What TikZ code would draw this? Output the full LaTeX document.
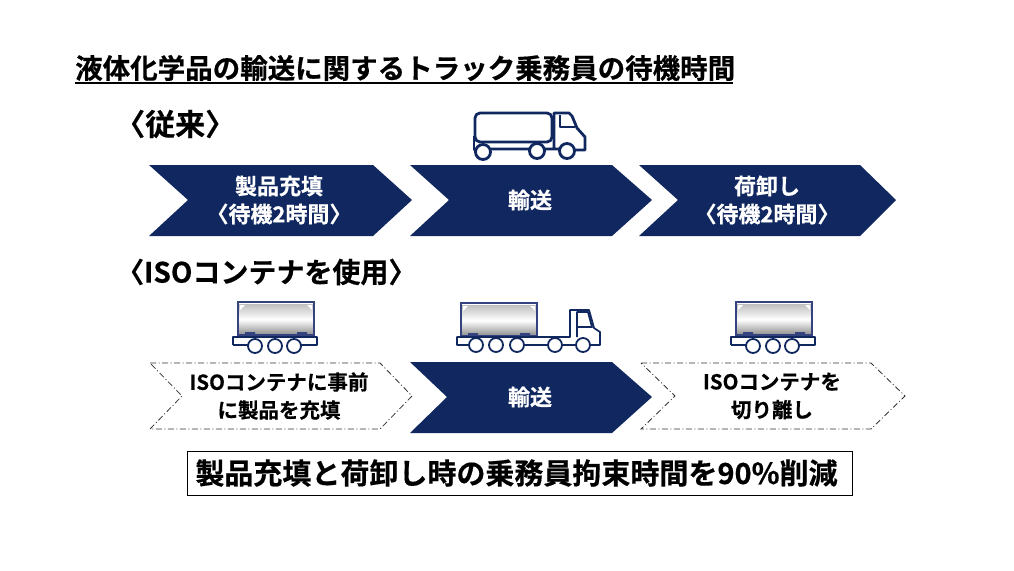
\documentclass[tikz,border=0pt]{standalone}
\usepackage{fontspec}
\setmainfont{Noto Sans CJK JP}[BoldFont={Noto Sans CJK JP Bold},BoldFeatures={FakeBold=0.5}]
\definecolor{navy}{HTML}{10285F}
\definecolor{framecol}{HTML}{34437F}
\tikzset{
    arrowsolid/.style={fill=navy,draw=none},
    arrowdash/.style={draw=black!80,line width=0.8pt,dash pattern=on 6pt off 2.5pt on 1pt off 2.5pt},
    whitetxt/.style={text=white,font=\fontsize{22}{28}\selectfont\bfseries,align=center,inner sep=0pt},
    blacktxt/.style={text=black,font=\fontsize{20.5}{28}\selectfont\bfseries,align=center,inner sep=0pt},
    headtxt/.style={text=black,font=\fontsize{29}{32}\selectfont\bfseries,anchor=west,inner sep=0pt},
    truckline/.style={draw=navy,line width=1.8pt,line join=round},
    tanker/.style={draw=navy,line width=2.8pt,line join=round},
    pics/tankbox/.style={code={
        \shade[top color=black!25,bottom color=black!45,middle color=white] (2,2) rectangle (76,33);
        \fill[white] (3,3) -- (8,3) -- (3,8) -- cycle (75,3) -- (70,3) -- (75,8) -- cycle;
        \draw[framecol,line width=2.6pt] (1,0) rectangle (77,33);
        \fill[framecol] (8,30) rectangle (18,33) (60,30) rectangle (70,33);
    }},
    pics/wheelbase/.style={code={
        \draw[truckline] (0,8) -- (0,0) -- (84,0) -- (84,8) -- (68,8);
        \draw[truckline] (0,8) -- (15,8);
        \draw[truckline] (22,9) circle (7) (42,9) circle (7) (61,9) circle (7);
    }}
}
\begin{document}
\begin{tikzpicture}[x=1pt,y=-1pt]
    \useasboundingbox (0,0) rectangle (1014,570);

    \node[headtxt,font=\fontsize{27.5}{30}\selectfont\bfseries] (title) at (75,68) {液体化学品の輸送に関するトラック乗務員の待機時間};
    \draw[black,line width=1.5pt] (75,83) -- (733,83);

    \node[headtxt,font=\fontsize{30}{32}\selectfont\bfseries] (oldhead) at (115,124) {〈従来〉};
    \node[headtxt,font=\fontsize{28}{32}\selectfont\bfseries] (isohead) at (116,272) {〈ISOコンテナを使用〉};

    % upper row
    \fill[arrowsolid] (149,165) -- (373,165) -- (412,200) -- (373,236) -- (149,236) -- (188,200) -- cycle;
    \fill[arrowsolid] (410,165) -- (612,165) -- (652,200) -- (612,236) -- (410,236) -- (449,200) -- cycle;
    \fill[arrowsolid] (639,165) -- (860,165) -- (896,200) -- (860,236) -- (639,236) -- (678,200) -- cycle;
    \node[whitetxt] (fill) at (279,200) {製品充填\\〈待機2時間〉};
    \node[whitetxt] (trans) at (530,200) {輸送};
    \node[whitetxt] (unload) at (767,200) {荷卸し\\〈待機2時間〉};

    % lower row
    \draw[arrowdash] (150,363) -- (380,363) -- (412,396) -- (380,429) -- (150,429) -- (182,396) -- cycle;
    \fill[arrowsolid] (410,362) -- (612,362) -- (652,397) -- (612,433) -- (410,433) -- (447,397) -- cycle;
    \draw[arrowdash] (641,363) -- (871,363) -- (905,396) -- (871,429) -- (641,429) -- (675,396) -- cycle;
    \node[blacktxt] (prefill) at (279,396) {ISOコンテナに事前\\に製品を充填};
    \node[whitetxt] (transb) at (530,397) {輸送};
    \node[blacktxt] (detach) at (772,396) {ISOコンテナを\\切り離し};

    % tank lorry
    \draw[tanker,rounded corners=5pt] (475,113) rectangle (552,142);
    \draw[tanker] (474,136) -- (474,150) -- (476,150);
    \draw[tanker] (491,149) -- (529,149) (545,149) -- (559,149) (575,150) -- (585,150) -- (585,137) -- (577,128) -- (572,116) -- (569,113) -- (554,113) -- (554,149);
    \draw[tanker] (560,115) -- (560,127) -- (575,127);
    \draw[tanker] (483,152) circle (7.5) (537,151) circle (7.5) (567,151) circle (7.5);

    % container lorry
    \pic at (460,303) {tankbox};
    \draw[truckline] (468,345) -- (457,345) -- (457,337) -- (570,337) -- (570,310) -- (589,310) -- (594,328) -- (600,332) -- (600,345) -- (591,345);
    \draw[truckline] (577,337) -- (577,312) -- (588,312) -- (592,327) -- (577,327);
    \draw[truckline] (525,345) -- (548,345) (562,345) -- (576,345);
    \draw[truckline] (476,345) circle (7) (496,345) circle (7) (517,345) circle (7) (555,345) circle (7) (583,345) circle (7);

    % containers on their own
    \pic at (237,302) {tankbox};
    \pic at (233,337) {wheelbase};
    \pic at (735,302) {tankbox};
    \pic at (731,337) {wheelbase};

    \node[draw=black,line width=1pt,minimum width=665pt,minimum height=44pt,inner sep=0pt] (result) at (519.5,473) {};
    \node[inner sep=0pt,font=\fontsize{29}{32}\selectfont\bfseries] (resulttxt) at (516.5,473) {製品充填と荷卸し時の乗務員拘束時間を90\%削減};
\end{tikzpicture}
\end{document}
